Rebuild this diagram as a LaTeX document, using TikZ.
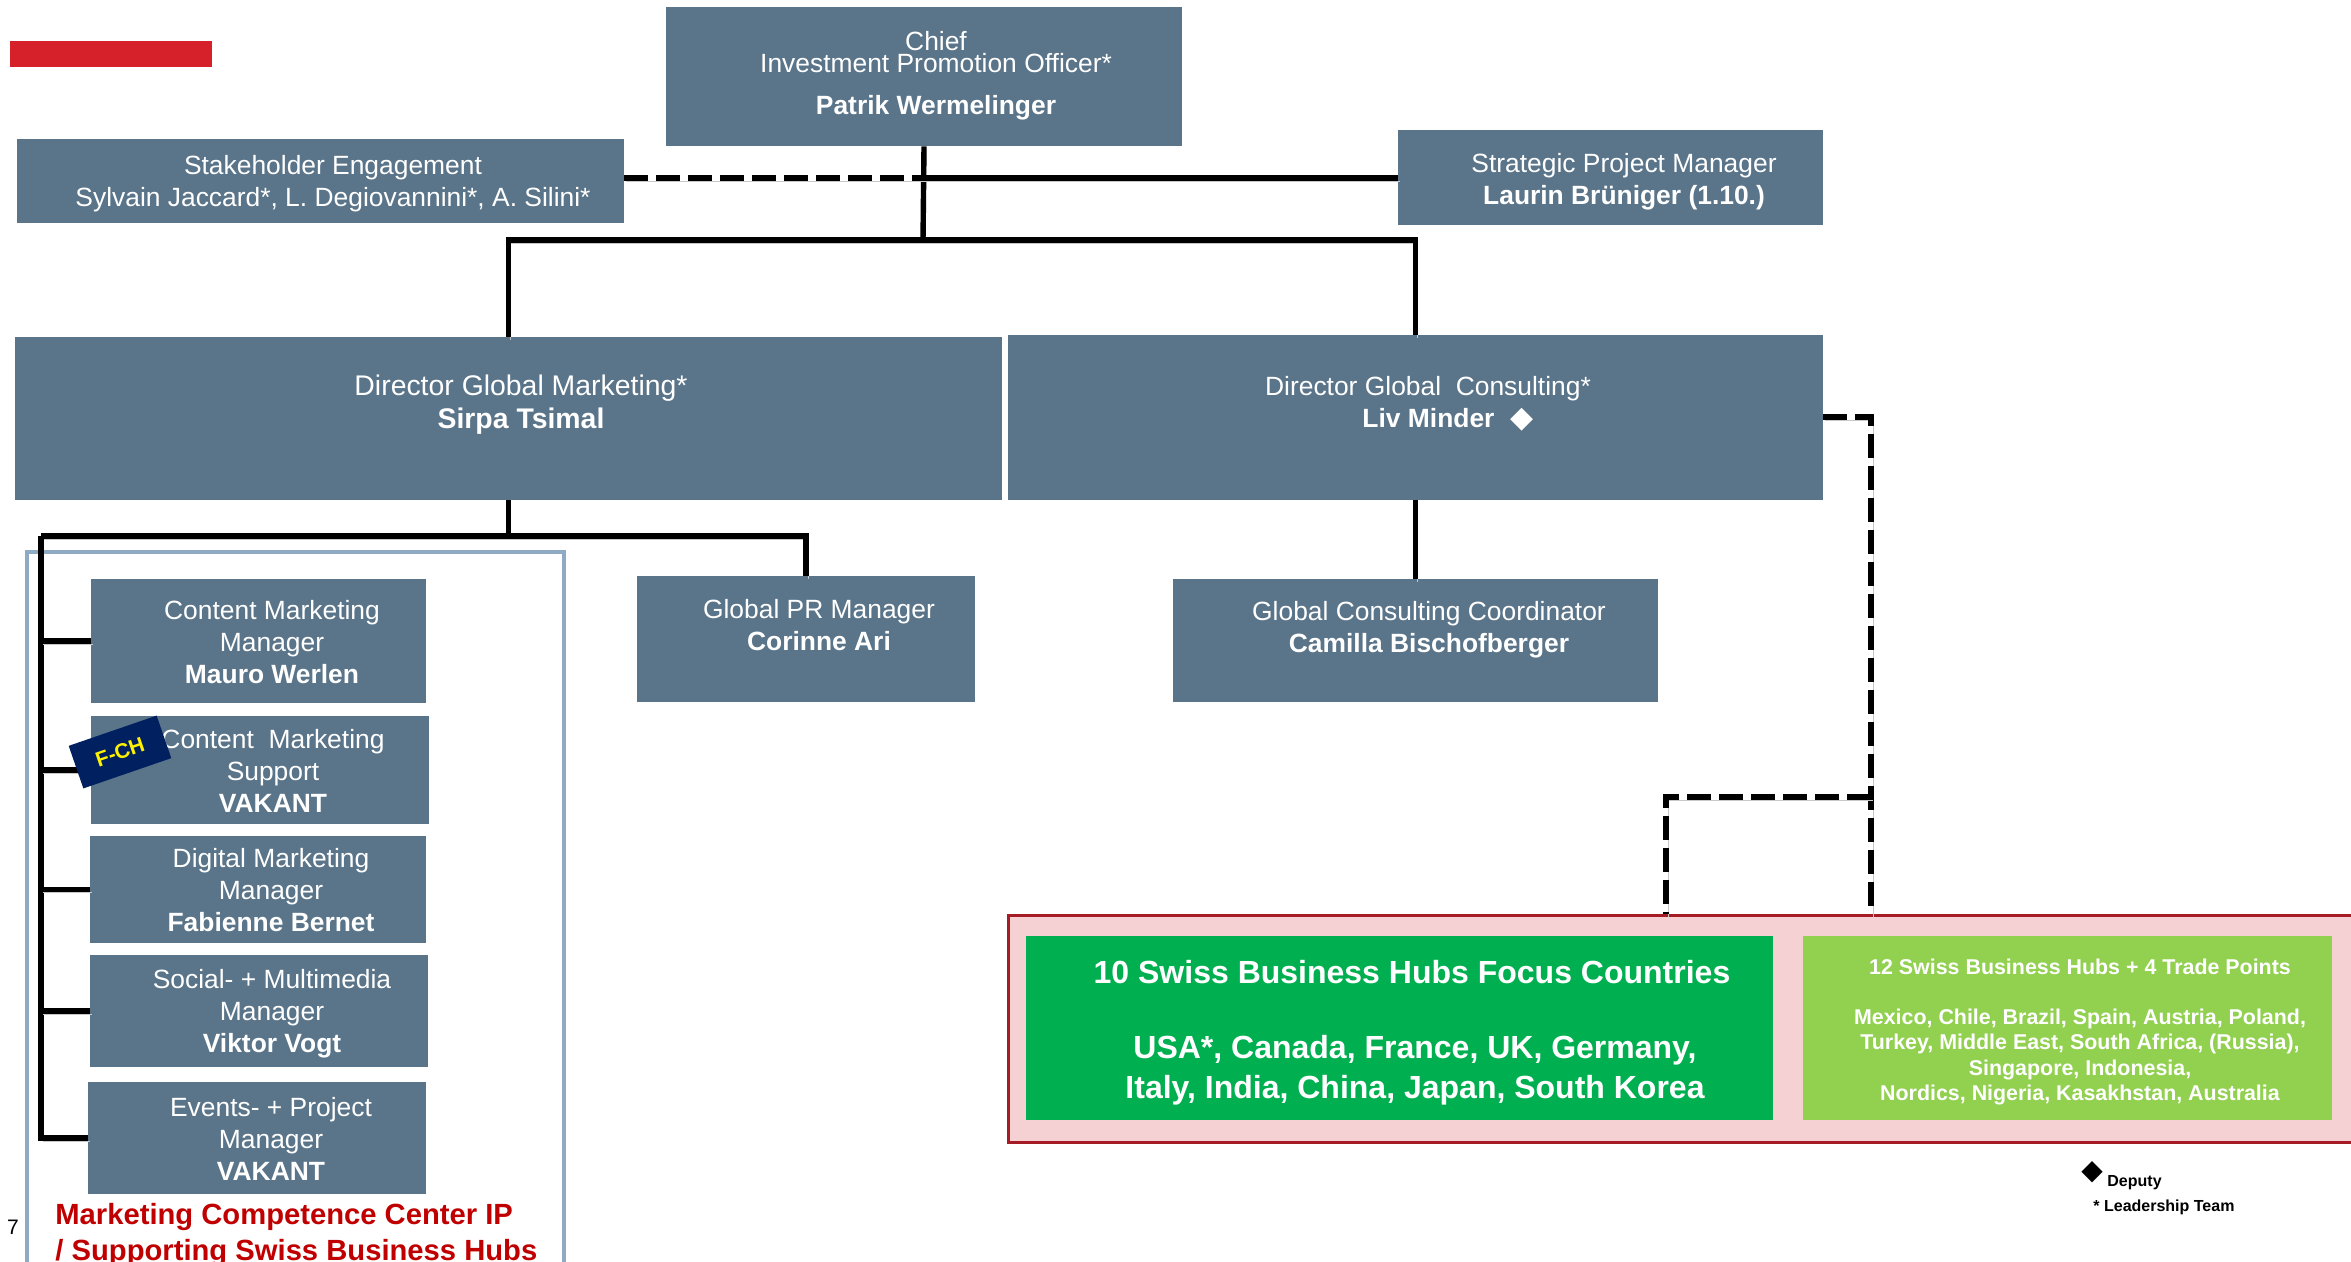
\documentclass[tikz,border=0pt]{standalone}
\usepackage{fontspec}
\setmainfont{Liberation Sans}
\newfontfamily\symfont{DejaVu Sans}
\usetikzlibrary{fit}
\definecolor{boxblue}{HTML}{5A7489}
\definecolor{topred}{HTML}{D6202A}
\definecolor{groupline}{HTML}{8FABC3}
\definecolor{pinkfill}{HTML}{F6D1D3}
\definecolor{pinkline}{HTML}{A51C24}
\definecolor{hubgreen}{HTML}{00B050}
\definecolor{hublight}{HTML}{92D050}
\definecolor{navy}{HTML}{002060}
\definecolor{mccred}{HTML}{C00000}
\begin{document}
\begin{tikzpicture}[x=0.5pt,y=-0.5pt,
  box/.style={fill=boxblue, draw=none, inner sep=0pt},
  txt/.style={text=white, align=center, inner sep=0pt, font=\fontsize{13.2}{16}\selectfont},
  shadow/.style={preaction={draw=black!22, transform canvas={xshift=1pt, yshift=-1.5pt}}},
  conn/.style={line width=2.7pt, black, shadow},
  dconn/.style={line width=3pt, black, dash pattern=on 12pt off 4pt, shadow},
  gtxt/.style={text=white, align=center, inner sep=0pt, font=\bfseries\fontsize{16}{20}\selectfont},
  lgtxt/.style={text=white, align=center, inner sep=0pt, font=\bfseries\fontsize{10.7}{12.75}\selectfont},
  legtxt/.style={inner sep=0pt, font=\bfseries\fontsize{8}{10}\selectfont},
]
\useasboundingbox (0,0) rectangle (2351,1262);

% decorative red bar
\node[fill=topred, inner sep=0pt, fit={(10,41) (212,67)}] (redbar) {};

% group outline
\node[draw=groupline, line width=2pt, inner sep=0pt, fit={(27,552) (564,1300)}] (group) {};

% pink hub area
\node[fill=pinkfill, draw=pinkline, line width=1.5pt, inner sep=0pt, fit={(1008,915) (2370,1142)}] (pink) {};
\node[fill=hubgreen, inner sep=0pt, fit={(1026,936) (1773,1120)}] (green) {};
\node[fill=hublight, inner sep=0pt, fit={(1803,936) (2332,1120)}] (lgreen) {};

% boxes
\node[box, fit={(666,7) (1182,146)}] (cipo) {};
\node[box, fit={(17,139) (624,223)}] (stake) {};
\node[box, fit={(1398,130) (1823,225)}] (strat) {};
\node[box, fit={(15,337) (1002,500)}] (dgm) {};
\node[box, fit={(1008,335) (1823,500)}] (dgc) {};
\node[box, fit={(91,579) (426,703)}] (cmm) {};
\node[box, fit={(91,716) (429,824)}] (cms) {};
\node[box, fit={(90,836) (426,943)}] (dmm) {};
\node[box, fit={(90,955) (428,1067)}] (smm) {};
\node[box, fit={(88,1082) (426,1194)}] (epm) {};
\node[box, fit={(637,576) (975,702)}] (pr) {};
\node[box, fit={(1173,579) (1658,702)}] (gcc) {};

% texts
\node[txt] (cipo-t) at (936,76) {Chief\\[-5pt]Investment Promotion Officer*\\[5pt]\textbf{Patrik Wermelinger}};
\node[txt] (stake-t) at (333,184) {Stakeholder Engagement\\Sylvain Jaccard*, L. Degiovannini*, A. Silini*};
\node[txt] (strat-t) at (1624,182) {Strategic Project Manager\\\textbf{Laurin Brüniger (1.10.)}};
\node[txt, font=\fontsize{14.2}{16.5}\selectfont] (dgm-t) at (521,405) {Director Global Marketing*\\\textbf{Sirpa Tsimal}};
\node[txt] (dgc-t) at (1428,404) {Director Global~ Consulting*\\\hspace*{20pt}\textbf{Liv Minder}\hspace{8pt}{\symfont\fontsize{15}{16}\selectfont ◆}};
\node[txt] (cmm-t) at (272,642) {Content Marketing\\Manager\\\textbf{Mauro Werlen}};
\node[txt] (cms-t) at (273,771) {Content~ Marketing\\Support\\\textbf{VAKANT}};
\node[txt] (dmm-t) at (271,890) {Digital Marketing\\Manager\\\textbf{Fabienne Bernet}};
\node[txt] (smm-t) at (272,1014) {Social- + Multimedia\\Manager\\\textbf{Viktor Vogt}};
\node[txt] (epm-t) at (271,1139) {Events- + Project\\Manager\\\textbf{VAKANT}};
\node[txt] (pr-t) at (819,625) {Global PR Manager\\\textbf{Corinne Ari}};
\node[txt] (gcc-t) at (1429,630) {Global Consulting Coordinator\\\textbf{Camilla Bischofberger}};

\node[gtxt] (green-title) at (1412,972) {10 Swiss Business Hubs Focus Countries};
\node[gtxt] (green-body) at (1415,1070) {USA*, Canada, France, UK, Germany,\\Italy, India, China, Japan, South Korea};
\node[lgtxt] (lg-title) at (2080,967) {12 Swiss Business Hubs + 4 Trade Points};
\node[lgtxt] (lg-body) at (2080,1057) {Mexico, Chile, Brazil, Spain, Austria, Poland,\\Turkey, Middle East, South Africa, (Russia),\\Singapore, Indonesia,\\Nordics, Nigeria, Kasakhstan, Australia};

\node[anchor=north west, align=left, inner sep=0pt, text=mccred, font=\bfseries\fontsize{14.6}{18}\selectfont] (mcc) at (55,1203) {Marketing Competence Center IP\\/ Supporting Swiss Business Hubs};
\node[inner sep=0pt, font=\fontsize{10.5}{12}\selectfont] (pagenum) at (13,1227) {7};

% legend
\node[inner sep=0pt, font=\symfont\fontsize{14}{14}\selectfont] (leg-dia) at (2092,1172) {◆};
\node[legtxt, anchor=base west] (leg-dep) at (2107,1186) {Deputy};
\node[legtxt, anchor=base west] (leg-lt) at (2093,1211) {*~Leadership Team};

% connectors
\coordinate (sj) at (923,178);
\coordinate (hb) at (923,240);
\draw[conn] (cipo.south) -- (hb);
\draw[dconn] (stake.east |- sj) -- (sj);
\draw[conn] (sj) -- (strat.west |- sj);
\draw[conn] (dgm.north) -- (dgm.north |- hb) -- (dgc.north |- hb) -- (dgc.north);

\coordinate (busL) at (41,536);
\draw[conn] (dgm.south) -- (dgm.south |- busL);
\draw[conn] (busL) -- (pr.north |- busL) -- (pr.north);
\draw[conn] (busL) -- (busL |- epm.west) -- (epm.west);
\foreach \n in {cmm,cms,dmm,smm} \draw[conn] (busL |- \n.west) -- (\n.west);

\draw[conn] (dgc.south) -- (gcc.north);

\coordinate (dj) at (1871,797);
\coordinate (dk) at (1666,797);
\draw[dconn] (dgc.east) -| (dj |- pink.north);
\draw[dconn] (dj) -- (dk) -- (dk |- pink.north);

% F-CH tag
\node[fill=navy, rotate=19, minimum width=46.5pt, minimum height=22.5pt, inner sep=0pt, text=yellow, font=\bfseries\fontsize{10.5}{12}\selectfont] (fch) at (120,752) {F-CH};
\end{tikzpicture}
\end{document}
